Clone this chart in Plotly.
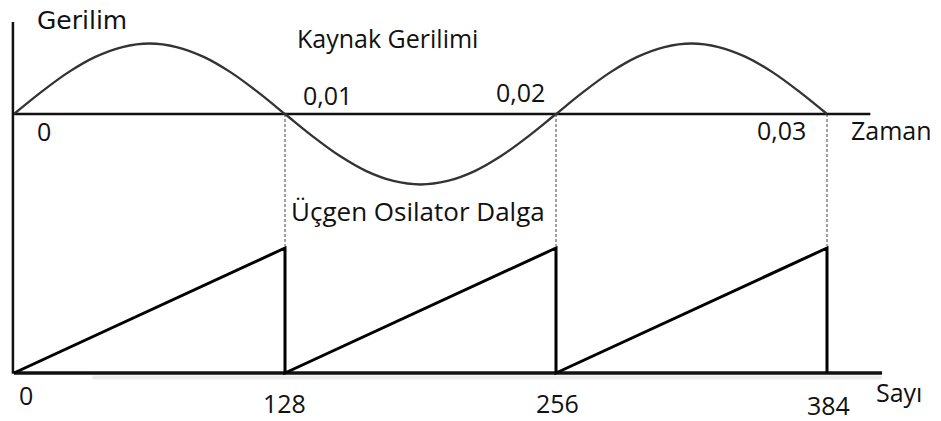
import plotly.graph_objects as go

# ---- data -------------------------------------------------------------
# Source voltage (normalised) sampled every 1 ms over three half periods
time_s = [0.000, 0.001, 0.002, 0.003, 0.004, 0.005, 0.006, 0.007, 0.008, 0.009,
          0.010, 0.011, 0.012, 0.013, 0.014, 0.015, 0.016, 0.017, 0.018, 0.019,
          0.020, 0.021, 0.022, 0.023, 0.024, 0.025, 0.026, 0.027, 0.028, 0.029,
          0.030]
voltage = [0.00, 0.31, 0.59, 0.81, 0.95, 1.00, 0.95, 0.81, 0.59, 0.31,
           0.00, -0.31, -0.59, -0.81, -0.95, -1.00, -0.95, -0.81, -0.59, -0.31,
           0.00, 0.31, 0.59, 0.81, 0.95, 1.00, 0.95, 0.81, 0.59, 0.31,
           0.00]

# Oscillator counter ramp (normalised) – rises over 128 counts, then resets
count = [0, 128, 128, 256, 256, 384, 384]
ramp = [0, 1, 0, 1, 0, 1, 0]

time_ticks = [0, 0.01, 0.02, 0.03]
time_tick_text = ["0", "0,01", "0,02", "0,03"]
count_ticks = [0, 128, 256, 384]
count_tick_text = ["0", "128", "256", "384"]

# ---- layout geometry ----------------------------------------------------
W, H = 941, 421
X1_RANGE = [-14 / 27100, (W - 14) / 27100]          # time axis
Y1_RANGE = [(114 - H) / 70.5, 114 / 70.5]           # voltage axis
X2_RANGE = [-14 * 128 / 271, (W - 14) * 128 / 271]  # count axis
Y2_RANGE = [(373 - H) / 125, 373 / 125]             # ramp axis

TIME_AXIS_END = 0.0316
COUNT_AXIS_END = 410
RAMP_TOP = 1.0


def y1_paper(v):
    return (v - Y1_RANGE[0]) / (Y1_RANGE[1] - Y1_RANGE[0])


def y2_paper(s):
    return (s - Y2_RANGE[0]) / (Y2_RANGE[1] - Y2_RANGE[0])


FONT = "Open Sans"
INK = "#111111"
SIZE = 25

fig = go.Figure()

fig.add_trace(go.Scatter(
    x=time_s, y=voltage, mode="lines", xaxis="x", yaxis="y",
    line=dict(color="#333333", width=2.3, shape="spline", smoothing=1.0),
    hoverinfo="skip", showlegend=False))

fig.add_trace(go.Scatter(
    x=count, y=ramp, mode="lines", xaxis="x2", yaxis="y2",
    line=dict(color="#000000", width=3),
    hoverinfo="skip", showlegend=False))

shapes = []
# vertical (Gerilim) axis spanning both panels
shapes.append(dict(type="line", xref="x", yref="paper", x0=-0.00004, x1=-0.00004,
                   y0=1 - 22 / H, y1=y2_paper(0) - 0.002,
                   line=dict(color=INK, width=2.5), layer="above"))
# time axis
shapes.append(dict(type="line", xref="x", yref="y", x0=0, x1=TIME_AXIS_END,
                   y0=0, y1=0, line=dict(color=INK, width=2.5), layer="below"))
# count axis (with soft shadow underneath)
shapes.append(dict(type="line", xref="x2", yref="y2", x0=37, x1=COUNT_AXIS_END,
                   y0=-0.035, y1=-0.035, line=dict(color="#ececec", width=4),
                   layer="below"))
shapes.append(dict(type="line", xref="x2", yref="y2", x0=0, x1=COUNT_AXIS_END,
                   y0=0, y1=0, line=dict(color=INK, width=3.5), layer="below"))
# dashed links between zero crossings and counter resets
for t in time_ticks[1:]:
    shapes.append(dict(type="line", xref="x", yref="paper", x0=t, x1=t,
                       y0=y1_paper(0), y1=y2_paper(RAMP_TOP) + 0.005,
                       line=dict(color="#444444", width=1, dash="3px,2px"),
                       layer="below"))

annotations = []
time_offsets = [(30, -17), (42, 19), (-36, 22), (-46, -16)]
for t, txt, (dx, dy) in zip(time_ticks, time_tick_text, time_offsets):
    annotations.append(dict(x=t, y=0, xref="x", yref="y", text=txt,
                            showarrow=False, xshift=dx, yshift=dy,
                            xanchor="center", yanchor="middle",
                            font=dict(family=FONT, size=SIZE, color=INK)))
count_offsets = [(12, -22), (-1, -30), (1, -30), (1, -32)]
for n, txt, (dx, dy) in zip(count_ticks, count_tick_text, count_offsets):
    annotations.append(dict(x=n, y=0, xref="x2", yref="y2", text=txt,
                            showarrow=False, xshift=dx, yshift=dy,
                            xanchor="center", yanchor="middle",
                            font=dict(family=FONT, size=SIZE, color=INK)))

titles = [
    ("Gerilim", 82, 21, "DejaVu Sans", 25),
    ("Kaynak Gerilimi", 387, 38, FONT, SIZE),
    ("Zaman", 891, 130, FONT, SIZE),
    ("Üçgen Osilator Dalga", 418, 211, FONT, 26),
    ("Sayı", 899, 392, FONT, SIZE),
]
for txt, px, py, fam, size in titles:
    annotations.append(dict(x=px / W, y=1 - py / H, xref="paper", yref="paper",
                            text=txt, showarrow=False,
                            xanchor="center", yanchor="middle",
                            font=dict(family=fam, size=size, color=INK)))

axis_common = dict(visible=False, showgrid=False, zeroline=False, fixedrange=True)
fig.update_layout(
    width=W, height=H, autosize=False,
    margin=dict(l=0, r=0, t=0, b=0),
    paper_bgcolor="white", plot_bgcolor="white",
    xaxis=dict(range=X1_RANGE, domain=[0, 1], **axis_common),
    yaxis=dict(range=Y1_RANGE, domain=[0, 1], **axis_common),
    xaxis2=dict(range=X2_RANGE, domain=[0, 1], overlaying="x", anchor="y2",
                **axis_common),
    yaxis2=dict(range=Y2_RANGE, domain=[0, 1], overlaying="y", anchor="x2",
                **axis_common),
    shapes=shapes, annotations=annotations, showlegend=False,
)

fig.write_html("out.html", config=dict(displayModeBar=False, staticPlot=True))
